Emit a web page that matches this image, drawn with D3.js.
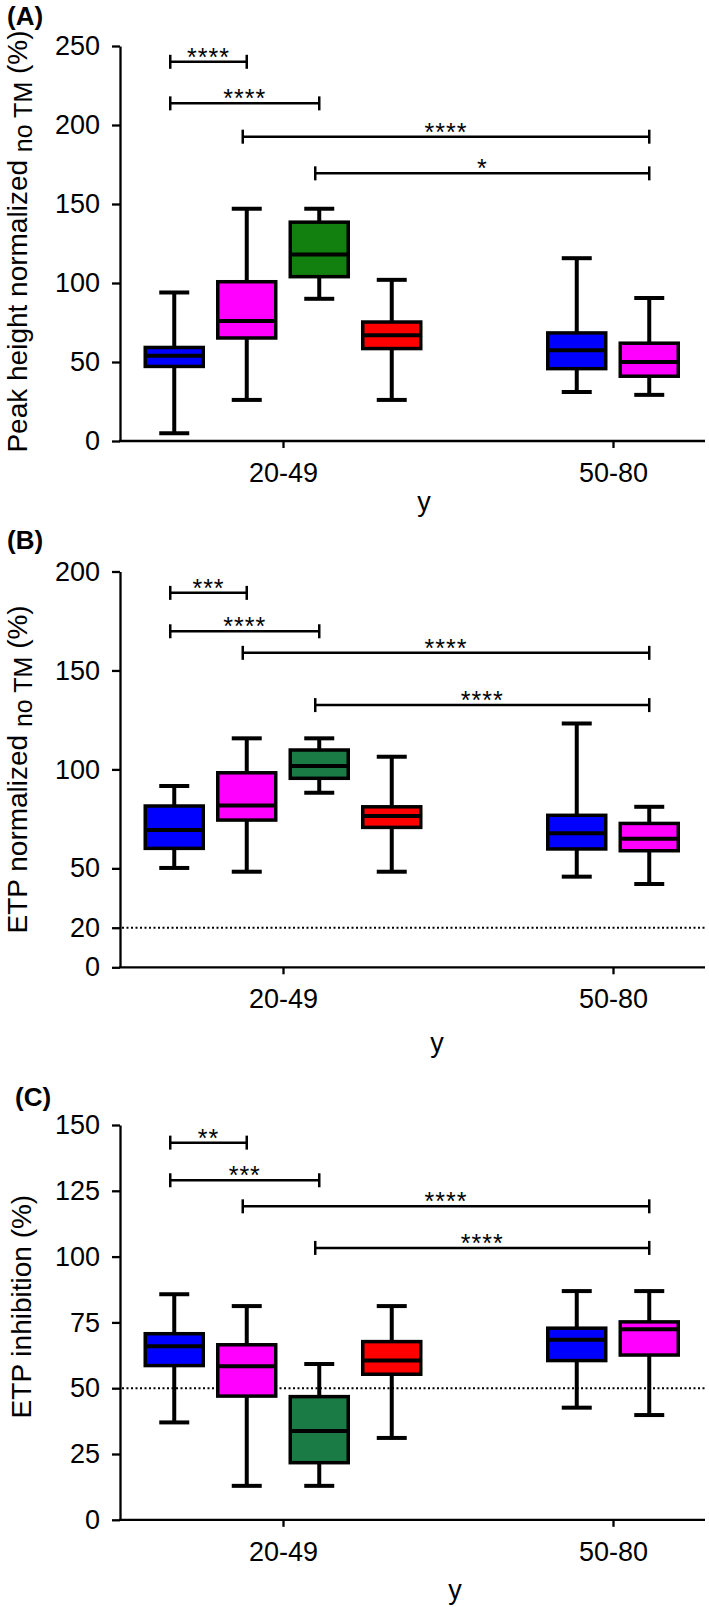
<!DOCTYPE html>
<html><head><meta charset="utf-8">
<script src="https://cdn.jsdelivr.net/npm/d3@7"></script>
<style>body{margin:0;background:#fff} svg{display:block}</style>
</head><body>
<script>
// ---------- data ----------
const groups = ['20-49', '50-80'];
const boxGroup = [0, 0, 0, 0, 1, 1];
const boxSlot  = [0, 1, 2, 3, 0, 1];
const groupSize = [4, 2];

const colorsA  = ['#0000ff', '#ff00ff', '#12800f', '#ff0000', '#0000ff', '#ff00ff'];
const colorsBC = ['#0000ff', '#ff00ff', '#1a7b44', '#ff0000', '#0000ff', '#ff00ff'];

// Panel A: Peak height normalized (%)
const peakMin = [4.9, 26, 90, 26, 31, 29.2];
const peakQ1  = [47.2, 65.2, 104, 58.5, 45.8, 41];
const peakMed = [54, 76, 118, 67, 57.5, 50];
const peakQ3  = [59.2, 100.8, 138.5, 75.3, 68.4, 61.9];
const peakMax = [94, 147, 147, 102, 115.7, 90.5];
const peakTicks = [0, 50, 100, 150, 200, 250];
const peakFrom = [0, 0, 1, 2];
const peakTo   = [1, 2, 5, 5];
const peakSigY = [240, 213.7, 192.6, 169.4];
const peakSig  = ['****', '****', '****', '*'];

// Panel B: ETP normalized (%)
const etpMin = [50.2, 48.3, 88.2, 48.3, 45.8, 42.1];
const etpQ1  = [60.1, 74.4, 95.5, 70.7, 59.8, 58.9];
const etpMed = [69.4, 81.8, 101.7, 76.4, 67.7, 65];
const etpQ3  = [81.5, 98.3, 109.8, 81.1, 76.8, 72.7];
const etpMax = [91.6, 115.7, 115.7, 106.4, 123.2, 81.1];
const etpTicks = [0, 20, 50, 100, 150, 200];
const etpRef = 20;
const etpFrom = [0, 0, 1, 2];
const etpTo   = [1, 2, 5, 5];
const etpSigY = [189.2, 169.8, 158.9, 132.5];
const etpSig  = ['***', '****', '****', '****'];

// Panel C: ETP inhibition (%)
const inhMin = [37, 12.9, 12.9, 31.1, 42.6, 39.8];
const inhQ1  = [58.6, 47, 21.7, 55.3, 60.5, 62.6];
const inhMed = [65.9, 58.3, 33.7, 60.5, 68.4, 72.4];
const inhQ3  = [70.7, 66.5, 46.8, 67.7, 72.8, 75.2];
const inhMax = [85.7, 81.2, 59.2, 81.2, 86.9, 86.9];
const inhTicks = [0, 25, 50, 75, 100, 125, 150];
const inhRef = 50;
const inhFrom = [0, 0, 1, 2];
const inhTo   = [1, 2, 5, 5];
const inhSigY = [143.3, 129, 119.1, 103.3];
const inhSig  = ['**', '***', '****', '****'];

// ---------- layout ----------
const W = 709, H = 1607;
const FONT = "'Liberation Sans', Arial, Helvetica, sans-serif";
const axisLeft = 120, axisRight = 705;
const slotStep = 72.5, boxW = 58, capW = 30;

const svg = d3.select('body').append('svg').attr('width', W).attr('height', H);

const x = d3.scalePoint().domain(groups).range([axisLeft + 163, axisRight - 92]);
const boxX = i => x(groups[boxGroup[i]]) + (boxSlot[i] - (groupSize[boxGroup[i]] - 1) / 2) * slotStep;

const panels = [
  { label: '(A)', labelX: 7, labelY: 25, top: 46, bottom: 441, max: 250, ticks: peakTicks,
    mn: peakMin, q1: peakQ1, md: peakMed, q3: peakQ3, mx: peakMax, colors: colorsA,
    from: peakFrom, to: peakTo, sy: peakSigY, sig: peakSig, ref: null,
    title: ['Peak height normalized ', 'no TM', ' (%)'], titleC: 0.495, titleX: 26.5,
    xtX: 424, xtY: 70 },
  { label: '(B)', labelX: 7, labelY: 549, top: 571.5, bottom: 967.3, max: 200, ticks: etpTicks,
    mn: etpMin, q1: etpQ1, md: etpMed, q3: etpQ3, mx: etpMax, colors: colorsBC,
    from: etpFrom, to: etpTo, sy: etpSigY, sig: etpSig, ref: etpRef,
    title: ['ETP normalized ', 'no TM', ' (%)'], titleC: 0.5, titleX: 27,
    xtX: 437, xtY: 85 },
  { label: '(C)', labelX: 15, labelY: 1106, top: 1125, bottom: 1519.8, max: 150, ticks: inhTicks,
    mn: inhMin, q1: inhQ1, md: inhMed, q3: inhQ3, mx: inhMax, colors: colorsBC,
    from: inhFrom, to: inhTo, sy: inhSigY, sig: inhSig, ref: inhRef,
    title: ['ETP inhibition (%)'], titleC: 0.46, titleX: 31,
    xtX: 455, xtY: 79 }
];

panels.forEach(p => {
  const g = svg.append('g');
  const y = d3.scaleLinear().domain([0, p.max]).range([p.bottom, p.top]);

  // panel label
  g.append('text').attr('x', p.labelX).attr('y', p.labelY)
    .attr('font-family', FONT).attr('font-weight', 'bold').attr('font-size', 26)
    .text(p.label);

  // y axis
  const ya = g.append('g').attr('transform', `translate(${axisLeft},0)`)
    .call(d3.axisLeft(y).tickValues(p.ticks).tickSize(8).tickSizeOuter(0).tickPadding(12).tickFormat(d3.format('d')));
  ya.select('.domain').attr('stroke', '#000').attr('stroke-width', 2.3);
  ya.selectAll('.tick line').attr('stroke', '#000').attr('stroke-width', 2.3);
  ya.selectAll('.tick text').attr('font-family', FONT).attr('font-size', 27).attr('fill', '#000');

  // x axis
  const xa = g.append('g').attr('transform', `translate(0,${p.bottom})`)
    .call(d3.axisBottom(x).tickSize(7).tickSizeOuter(0).tickPadding(15));
  xa.select('.domain').remove();
  xa.selectAll('.tick line').attr('stroke', '#000').attr('stroke-width', 2.3);
  xa.selectAll('.tick text').attr('font-family', FONT).attr('font-size', 27).attr('fill', '#000');
  g.append('line').attr('x1', axisLeft - 1).attr('x2', axisRight)
    .attr('y1', p.bottom).attr('y2', p.bottom).attr('stroke', '#000').attr('stroke-width', 2.3);

  // x title
  g.append('text').attr('x', p.xtX).attr('y', p.bottom + p.xtY)
    .attr('text-anchor', 'middle').attr('font-family', FONT).attr('font-size', 27).text('y');

  // y title
  const tc = p.top + (p.bottom - p.top) * p.titleC;
  const t = g.append('text').attr('transform', `translate(${p.titleX},${tc}) rotate(-90)`)
    .attr('text-anchor', 'middle').attr('font-family', FONT).attr('font-size', 28);
  if (p.title.length === 1) {
    t.text(p.title[0]);
  } else {
    t.append('tspan').text(p.title[0]);
    t.append('tspan').attr('font-size', 25).attr('dy', 5).text(p.title[1]);
    t.append('tspan').attr('dy', -5).text(p.title[2]);
  }

  // reference dotted line
  if (p.ref !== null) {
    g.append('line').attr('x1', axisLeft + 2).attr('x2', axisRight)
      .attr('y1', y(p.ref)).attr('y2', y(p.ref))
      .attr('stroke', '#000').attr('stroke-width', 2).attr('stroke-dasharray', '2,2.5');
  }

  // boxes
  const idx = d3.range(p.mn.length);
  const bg = g.selectAll('g.box').data(idx).join('g').attr('class', 'box');
  bg.append('line').attr('x1', boxX).attr('x2', boxX)
    .attr('y1', i => y(p.mx[i])).attr('y2', i => y(p.mn[i]))
    .attr('stroke', '#000').attr('stroke-width', 4);
  bg.append('line').attr('x1', i => boxX(i) - capW / 2).attr('x2', i => boxX(i) + capW / 2)
    .attr('y1', i => y(p.mx[i])).attr('y2', i => y(p.mx[i]))
    .attr('stroke', '#000').attr('stroke-width', 4);
  bg.append('line').attr('x1', i => boxX(i) - capW / 2).attr('x2', i => boxX(i) + capW / 2)
    .attr('y1', i => y(p.mn[i])).attr('y2', i => y(p.mn[i]))
    .attr('stroke', '#000').attr('stroke-width', 4);
  bg.append('rect').attr('x', i => boxX(i) - boxW / 2).attr('width', boxW)
    .attr('y', i => y(p.q3[i])).attr('height', i => y(p.q1[i]) - y(p.q3[i]))
    .attr('fill', i => p.colors[i]).attr('stroke', '#000').attr('stroke-width', 3.5);
  bg.append('line').attr('x1', i => boxX(i) - boxW / 2).attr('x2', i => boxX(i) + boxW / 2)
    .attr('y1', i => y(p.md[i])).attr('y2', i => y(p.md[i]))
    .attr('stroke', '#000').attr('stroke-width', 4);

  // significance brackets
  const si = d3.range(p.sig.length);
  const sg = g.selectAll('g.sig').data(si).join('g').attr('class', 'sig');
  sg.append('line').attr('x1', i => boxX(p.from[i]) - 4).attr('x2', i => boxX(p.to[i]))
    .attr('y1', i => y(p.sy[i])).attr('y2', i => y(p.sy[i]))
    .attr('stroke', '#000').attr('stroke-width', 2.5);
  sg.append('line').attr('x1', i => boxX(p.from[i]) - 4).attr('x2', i => boxX(p.from[i]) - 4)
    .attr('y1', i => y(p.sy[i]) - 7).attr('y2', i => y(p.sy[i]) + 7)
    .attr('stroke', '#000').attr('stroke-width', 2.5);
  sg.append('line').attr('x1', i => boxX(p.to[i])).attr('x2', i => boxX(p.to[i]))
    .attr('y1', i => y(p.sy[i]) - 7).attr('y2', i => y(p.sy[i]) + 7)
    .attr('stroke', '#000').attr('stroke-width', 2.5);
  sg.append('text').attr('x', i => (boxX(p.from[i]) - 4 + boxX(p.to[i])) / 2)
    .attr('y', i => y(p.sy[i]) + 4)
    .attr('text-anchor', 'middle').attr('font-family', FONT).attr('font-size', 25)
    .attr('letter-spacing', 1)
    .text(i => p.sig[i]);
});
</script>
</body></html>
